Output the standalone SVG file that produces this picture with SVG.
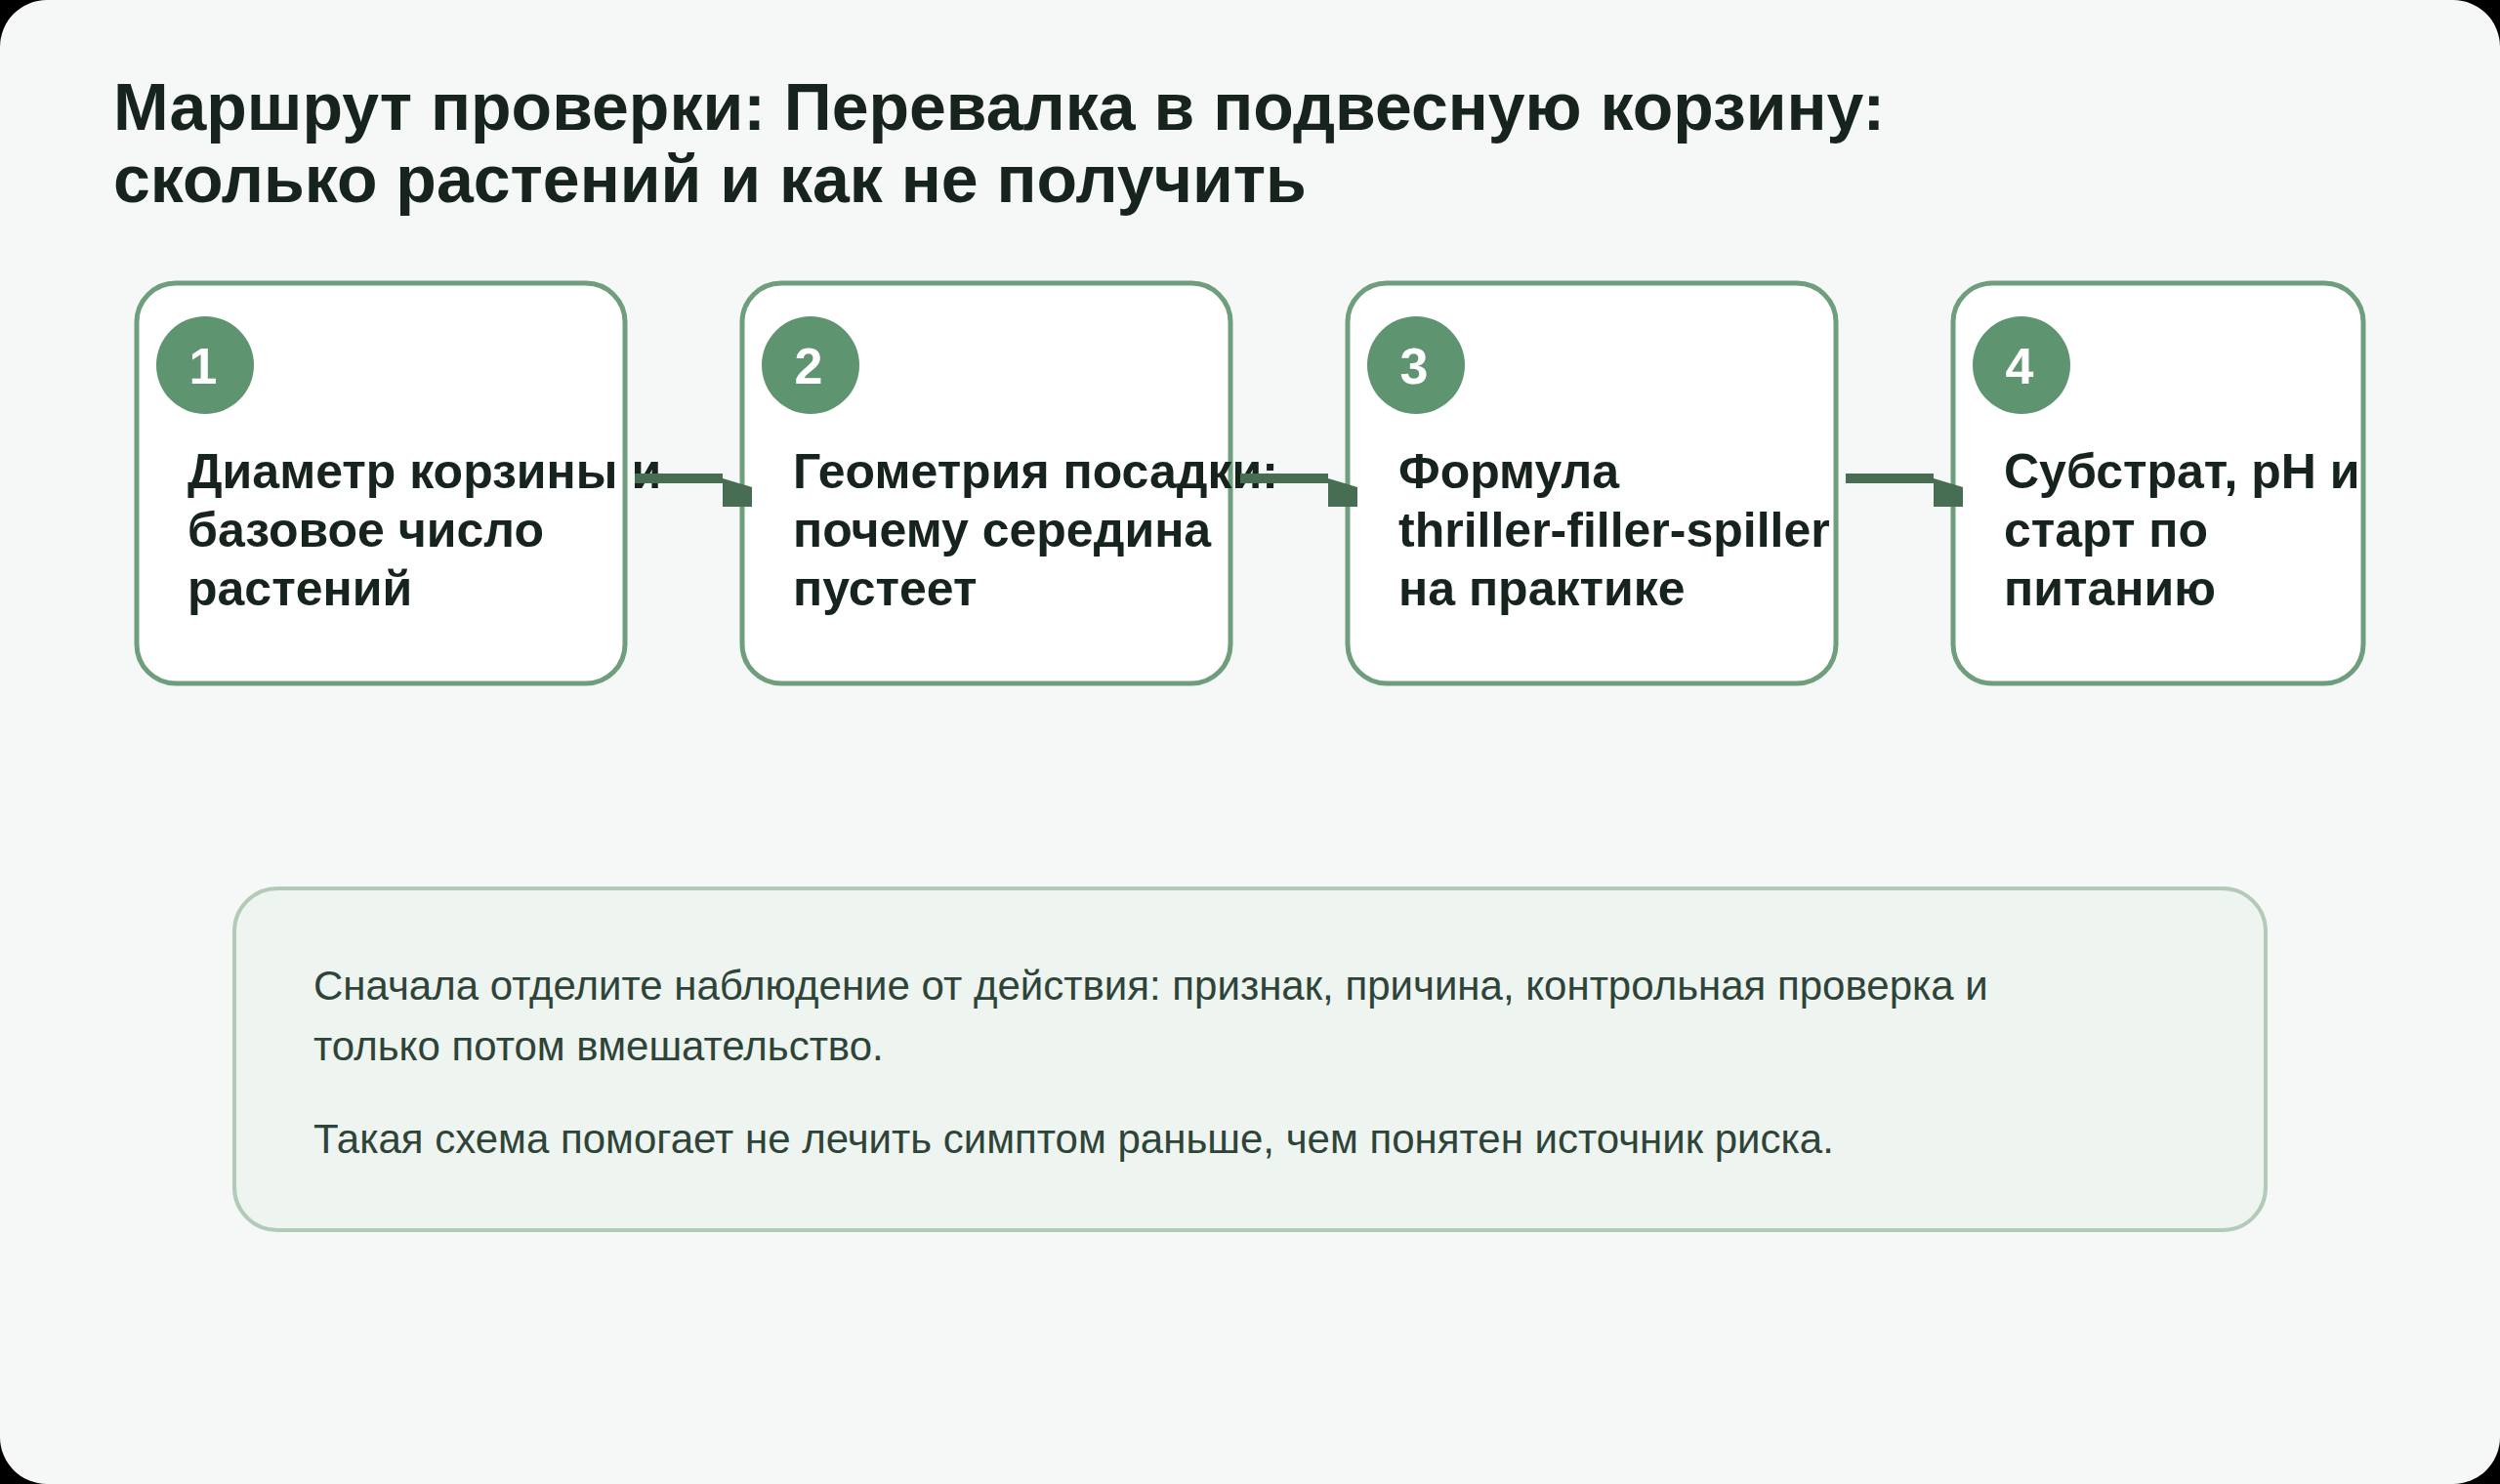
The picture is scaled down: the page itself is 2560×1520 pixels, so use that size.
<svg xmlns="http://www.w3.org/2000/svg" width="2560" height="1520" viewBox="0 0 2560 1520">
  <style>
    .title { font-family: "Liberation Sans", Arial, sans-serif; font-weight: bold; font-size: 68px; fill: #17241d; }
    .card { fill: #ffffff; stroke: #6f9e7c; stroke-width: 5; }
    .badge { fill: #5f9470; }
    .num { font-family: "Liberation Sans", Arial, sans-serif; font-weight: bold; font-size: 52px; fill: #ffffff; text-anchor: middle; }
    .label { font-family: "Liberation Sans", Arial, sans-serif; font-weight: bold; font-size: 50px; fill: #17241d; }
    .edge { fill: none; stroke: #476e53; stroke-width: 10; }
    .note { fill: #eef4f0; stroke: #b2cbb9; stroke-width: 4; }
    .notetext { font-family: "Liberation Sans", Arial, sans-serif; font-size: 42px; fill: #2f4438; }
  </style>
  <defs>
    <marker id="head" markerUnits="userSpaceOnUse" markerWidth="30" markerHeight="30" refX="0" refY="0" orient="auto" overflow="visible">
      <path d="M0,0 L30,9 L30,29 L0,29 Z" fill="#476e53"/>
    </marker>
  </defs>
  <rect x="0" y="0" width="2560" height="1520" fill="#000000"/>
  <rect x="0" y="0" width="2560" height="1520" rx="48" ry="48" fill="#f6f8f7"/>
  <g id="title">
    <text class="title" x="116" y="133">Маршрут проверки: Перевалка в подвесную корзину:</text>
    <text class="title" x="116" y="207">сколько растений и как не получить</text>
  </g>
  <g id="node1">
    <rect class="card" x="140" y="290" width="500" height="410" rx="40" ry="40"/>
    <circle class="badge" cx="210" cy="374" r="50"/>
    <text class="num" x="208" y="393">1</text>
    <text class="label" x="192" y="500">Диаметр корзины и</text>
    <text class="label" x="192" y="560">базовое число</text>
    <text class="label" x="192" y="620">растений</text>
  </g>
  <g id="node2">
    <rect class="card" x="760" y="290" width="500" height="410" rx="40" ry="40"/>
    <circle class="badge" cx="830" cy="374" r="50"/>
    <text class="num" x="828" y="393">2</text>
    <text class="label" x="812" y="500">Геометрия посадки:</text>
    <text class="label" x="812" y="560">почему середина</text>
    <text class="label" x="812" y="620">пустеет</text>
  </g>
  <g id="node3">
    <rect class="card" x="1380" y="290" width="500" height="410" rx="40" ry="40"/>
    <circle class="badge" cx="1450" cy="374" r="50"/>
    <text class="num" x="1448" y="393">3</text>
    <text class="label" x="1432" y="500">Формула</text>
    <text class="label" x="1432" y="560">thriller-filler-spiller</text>
    <text class="label" x="1432" y="620">на практике</text>
  </g>
  <g id="node4">
    <rect class="card" x="2000" y="290" width="420" height="410" rx="40" ry="40"/>
    <circle class="badge" cx="2070" cy="374" r="50"/>
    <text class="num" x="2068" y="393">4</text>
    <text class="label" x="2052" y="500">Субстрат, pH и</text>
    <text class="label" x="2052" y="560">старт по</text>
    <text class="label" x="2052" y="620">питанию</text>
  </g>
  <g id="connectors">
    <path class="edge" d="M650,490 L740,490" marker-end="url(#head)"/>
    <path class="edge" d="M1270,490 L1360,490" marker-end="url(#head)"/>
    <path class="edge" d="M1890,490 L1980,490" marker-end="url(#head)"/>
  </g>
  <g id="note">
    <rect class="note" x="240" y="910" width="2080" height="350" rx="44" ry="44"/>
    <text class="notetext" x="321" y="1024">Сначала отделите наблюдение от действия: признак, причина, контрольная проверка и</text>
    <text class="notetext" x="321" y="1086">только потом вмешательство.</text>
    <text class="notetext" x="321" y="1181">Такая схема помогает не лечить симптом раньше, чем понятен источник риска.</text>
  </g>
</svg>
